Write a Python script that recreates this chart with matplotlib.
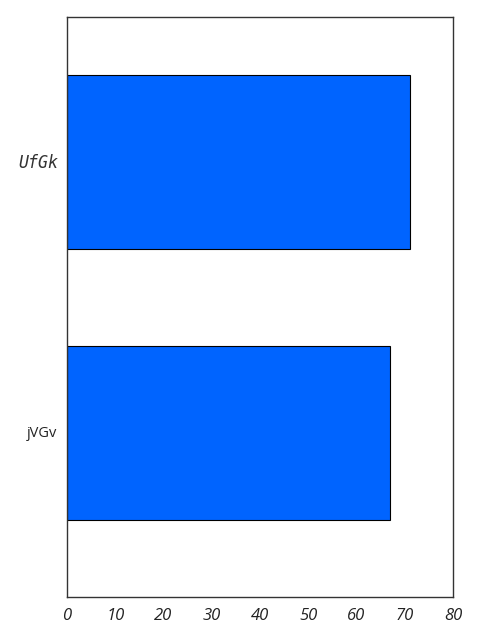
import matplotlib
matplotlib.use("Agg")
import matplotlib.pyplot as plt

categories = ["jVGv", "UfGk"]
values = [67, 71]
xticks = [0, 10, 20, 30, 40, 50, 60, 70, 80]

fig = plt.figure(figsize=(4.8, 6.4), dpi=100)
ax = fig.add_axes([67/480, 1-597/640, (453-67)/480, (597-17)/640])
pos = list(range(len(categories)))
ax.barh(pos, values, height=0.64, color="#0064ff", edgecolor="black", linewidth=0.8)
ax.set_xlim(0, 80)
ax.set_ylim(-0.605, 1.535)
ax.set_xticks(xticks)
ax.set_xticklabels([str(t) for t in xticks], fontfamily="Open Sans", fontstyle="italic", fontsize=12, color="#222222")
ax.set_yticks(pos)
ax.set_yticklabels([])
ax.tick_params(length=0, pad=8)
ax.text(-0.026, 0, categories[0], transform=ax.get_yaxis_transform(), ha="right", va="center",
        fontfamily="Open Sans", fontsize=10.5, color="#222222")
ax.text(-0.022, 0.995, categories[1], transform=ax.get_yaxis_transform(), ha="right", va="center",
        fontfamily="DejaVu Sans Mono", fontstyle="oblique", fontsize=12, color="#333333")
for s in ax.spines.values():
    s.set_color("#333333")
    s.set_linewidth(1.0)
fig.savefig("out.png", dpi=100)
